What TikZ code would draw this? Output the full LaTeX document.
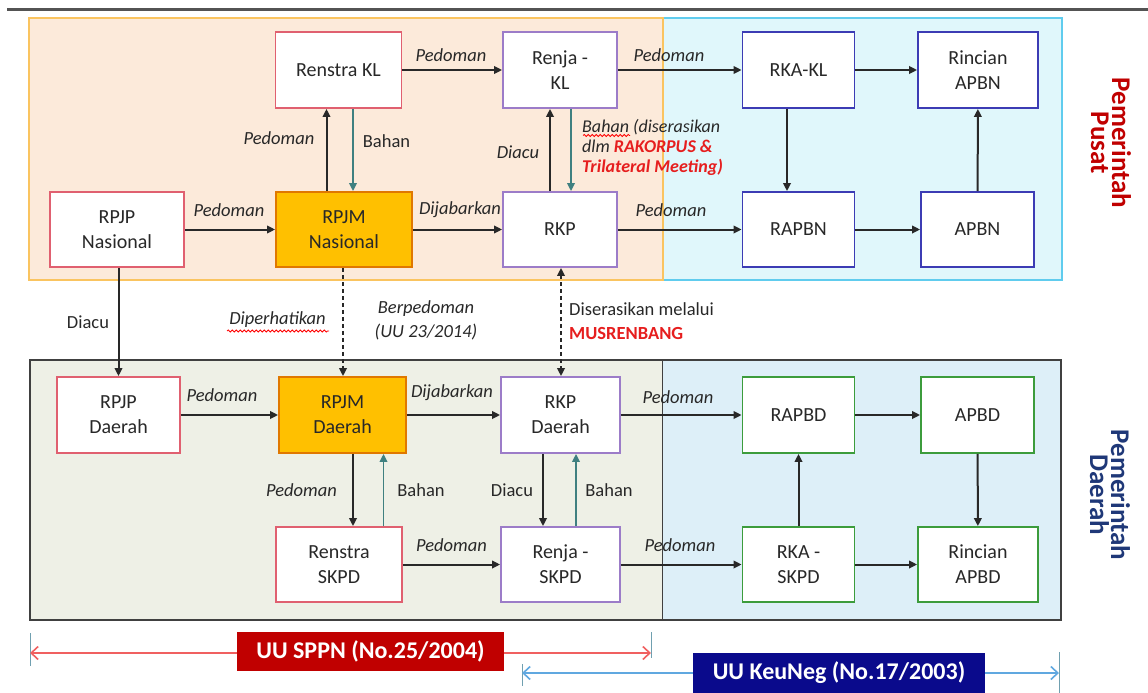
\documentclass[tikz,border=0pt]{standalone}
\usepackage{fontspec}
\setmainfont{Carlito}
\usetikzlibrary{arrows.meta,decorations.pathmorphing}
\definecolor{peach}{RGB}{252,234,218}
\definecolor{peachline}{RGB}{250,196,96}
\definecolor{cyanfill}{RGB}{224,247,251}
\definecolor{cyanline}{RGB}{96,204,238}
\definecolor{grayfill}{RGB}{238,240,230}
\definecolor{bluefill}{RGB}{221,239,248}
\definecolor{regline}{RGB}{64,64,64}
\definecolor{cred}{RGB}{224,96,112}
\definecolor{cpurple}{RGB}{156,124,200}
\definecolor{cblue}{RGB}{60,60,180}
\definecolor{cgreen}{RGB}{60,156,60}
\definecolor{corange}{RGB}{255,192,0}
\definecolor{corangeline}{RGB}{224,120,0}
\definecolor{cteal}{RGB}{63,128,128}
\definecolor{txt}{RGB}{40,40,40}
\definecolor{brightred}{RGB}{230,30,30}
\definecolor{darkred}{RGB}{192,0,0}
\definecolor{navytxt}{RGB}{31,56,120}
\definecolor{navybox}{RGB}{10,10,140}
\definecolor{rangered}{RGB}{240,96,96}
\definecolor{rangeblue}{RGB}{96,168,224}
\definecolor{tickcol}{RGB}{112,160,176}
\begin{document}
\begin{tikzpicture}[x=1pt,y=-1pt,
  region/.style={line width=2pt},
  box/.style={draw, fill=white, line width=1.8pt, align=center, inner sep=2pt,
    text=txt, font=\fontsize{20}{25}\selectfont},
  rbox/.style={draw=cred},
  pbox/.style={draw=cpurple},
  bbox/.style={draw=cblue},
  gbox/.style={draw=cgreen},
  obox/.style={draw=corangeline, fill=corange},
  arr/.style={draw=txt, line width=2pt, -{Triangle[length=8pt,width=7.5pt]}},
  tarr/.style={draw=cteal, line width=1.7pt, -{Triangle[length=8pt,width=7.5pt]}},
  dasharr/.style={arr, dash pattern=on 4pt off 3pt},
  lbl/.style={text=txt, inner sep=1pt, font=\fontsize{18.5}{22}\selectfont\itshape},
  lbln/.style={text=txt, inner sep=1pt, font=\fontsize{18.5}{22}\selectfont},
  wavy/.style={draw=red, line width=0.8pt, decorate,
    decoration={snake, segment length=4pt, amplitude=1pt}},
  side/.style={rotate=-90, align=center, inner sep=0pt,
    font=\fontsize{27}{21}\selectfont\bfseries},
  lawbox/.style={text=white, inner sep=0pt, font=\fontsize{24}{28}\selectfont\bfseries},
  rangearr/.style={line width=1.6pt, {Straight Barb[length=7pt,width=13pt]}-{Straight Barb[length=7pt,width=13pt]}}
]
\useasboundingbox (0,0) rectangle (1148,693);
% top rule
\draw[line width=3pt, draw=regline!90] (7,10) -- (1148,10);
% regions
\draw[region, fill=cyanfill, draw=cyanline] (662.5,18) rectangle (1062,280);
\draw[region, fill=peach, draw=peachline] (28.5,18) rectangle (662.5,280);
\draw[line width=1.6pt, fill=grayfill, draw=regline] (30,360) rectangle (662.5,620);
\draw[line width=1.6pt, fill=bluefill, draw=regline] (662.5,360) rectangle (1061,620);

% top boxes
\node[box,rbox,minimum width=126,minimum height=76] (renstrakl) at (338.5,70) {Renstra KL};
\node[box,pbox,minimum width=114,minimum height=76] (renjakl) at (560,70) {Renja -\\KL};
\node[box,bbox,minimum width=112,minimum height=76] (rkakl) at (798.5,70) {RKA-KL};
\node[box,bbox,minimum width=120,minimum height=76] (rincianapbn) at (978,70) {Rincian\\APBN};
\node[box,rbox,minimum width=134,minimum height=75] (rpjpn) at (117,229.5) {RPJP\\Nasional};
\node[box,obox,minimum width=136,minimum height=75] (rpjmn) at (344,229.5) {RPJM\\Nasional};
\node[box,pbox,minimum width=114,minimum height=75] (rkp) at (560,229.5) {RKP};
\node[box,bbox,minimum width=112,minimum height=75] (rapbn) at (798.5,229.5) {RAPBN};
\node[box,bbox,minimum width=113,minimum height=75] (apbn) at (977.5,229.5) {APBN};
% bottom boxes
\node[box,rbox,minimum width=123,minimum height=76] (rpjpd) at (118.5,415) {RPJP\\Daerah};
\node[box,obox,minimum width=127,minimum height=76] (rpjmd) at (342.5,415) {RPJM\\Daerah};
\node[box,pbox,minimum width=119,minimum height=76] (rkpd) at (560.5,415) {RKP\\Daerah};
\node[box,gbox,minimum width=112,minimum height=76] (rapbd) at (798.5,415) {RAPBD};
\node[box,gbox,minimum width=113,minimum height=76] (apbd) at (977.5,415) {APBD};
\node[box,rbox,minimum width=126,minimum height=75] (renstraskpd) at (339,564.5) {Renstra\\SKPD};
\node[box,pbox,minimum width=119,minimum height=75] (renjaskpd) at (560.5,564.5) {Renja -\\SKPD};
\node[box,gbox,minimum width=112,minimum height=75] (rkaskpd) at (798.5,564.5) {RKA -\\SKPD};
\node[box,gbox,minimum width=120,minimum height=75] (rincianapbd) at (978,564.5) {Rincian\\APBD};

% top connectors
\draw[arr] (renstrakl) -- (renjakl);
\draw[arr] (renjakl) -- (rkakl);
\draw[arr] (rkakl) -- (rincianapbn);
\draw[arr] (rkakl.south -| 787,0) -- (rapbn.north -| 787,0);
\draw[arr] (apbn) -- (rincianapbn);
\draw[arr] (rpjpn) -- (rpjmn);
\draw[arr] (rpjmn) -- (rkp);
\draw[arr] (rkp) -- (rapbn);
\draw[arr] (rapbn) -- (apbn);
\draw[arr] (rpjmn.north -| 326.5,0) -- (renstrakl.south -| 326.5,0);
\draw[tarr] (renstrakl.south -| 353,0) -- (rpjmn.north -| 353,0);
\draw[arr] (rkp.north -| 550,0) -- (renjakl.south -| 550,0);
\draw[tarr] (renjakl.south -| 571,0) -- (rkp.north -| 571,0);
% between levels
\draw[arr] (rpjpn.south -| 118.5,0) -- (rpjpd.north -| 118.5,0);
\draw[dasharr] (rpjmn.south -| 343,0) -- (rpjmd.north -| 343,0);
\draw[dasharr, {Triangle[length=8pt,width=7.5pt]}-{Triangle[length=8pt,width=7.5pt]}] (rkp.south -| 561,0) -- (rkpd.north -| 561,0);
% bottom connectors
\draw[arr] (rpjpd) -- (rpjmd);
\draw[arr] (rpjmd) -- (rkpd);
\draw[arr] (rkpd) -- (rapbd);
\draw[arr] (rapbd) -- (apbd);
\draw[arr] (rpjmd.south -| 353,0) -- (renstraskpd.north -| 353,0);
\draw[tarr] (renstraskpd.north -| 383.5,0) -- (rpjmd.south -| 383.5,0);
\draw[arr] (rkpd.south -| 543,0) -- (renjaskpd.north -| 543,0);
\draw[tarr] (renjaskpd.north -| 576,0) -- (rkpd.south -| 576,0);
\draw[arr] (renstraskpd) -- (renjaskpd);
\draw[arr] (renjaskpd) -- (rkaskpd);
\draw[arr] (rkaskpd) -- (rapbd);
\draw[arr] (apbd) -- (rincianapbd);
\draw[arr] (rkaskpd) -- (rincianapbd);

% labels top
\node[lbl] (l1) at (451,55) {Pedoman};
\node[lbl] (l2) at (669,55) {Pedoman};
\node[lbl] (l3) at (229,210) {Pedoman};
\node[lbl] (l4) at (460,210) {Dijabarkan};
\node[lbl] (l5) at (671,210) {Pedoman};
\node[lbl] (l6) at (279,138) {Pedoman};
\node[lbln] (l7) at (386.5,141) {Bahan};
\node[lbl] (l8) at (518,152) {Diacu};
\node[text=txt, inner sep=0pt, anchor=west, align=left,
  font=\fontsize{18}{20}\selectfont\itshape] (l9) at (582,147)
  {Bahan (diserasikan\\dlm {\color{brightred}\bfseries RAKORPUS \&}\\{\color{brightred}\bfseries Trilateral Meeting)}};
\draw[wavy] (583,135.5) -- (630,135.5);
% labels middle
\node[lbln] (l10) at (88,322) {Diacu};
\node[lbl] (l11) at (277.5,320) {Diperhatikan};
\draw[wavy] (227,331) -- (329,331);
\node[lbl, align=center, font=\fontsize{18.5}{24}\selectfont\itshape] (l12) at (426,320) {Berpedoman\\(UU 23/2014)};
\node[lbln, anchor=west, align=left, font=\fontsize{18.5}{24}\selectfont] (l13) at (568,321)
  {Diserasikan melalui\\{\color{brightred}\bfseries MUSRENBANG}};
% labels bottom
\node[lbl] (l14) at (222,395) {Pedoman};
\node[lbl] (l15) at (452,393) {Dijabarkan};
\node[lbl] (l16) at (678,397) {Pedoman};
\node[lbl] (l17) at (301.5,490) {Pedoman};
\node[lbln] (l18) at (421,490) {Bahan};
\node[lbln] (l19) at (512,490) {Diacu};
\node[lbln] (l20) at (609,490) {Bahan};
\node[lbl] (l21) at (451.5,545) {Pedoman};
\node[lbl] (l22) at (680,545) {Pedoman};

% side labels
\node[side, text=darkred] (pusat) at (1111,143) {Pemerintah\\Pusat};
\node[side, text=navytxt] (daerah) at (1110,495) {Pemerintah\\Daerah};

% law ranges
\coordinate (ra) at (30,653);
\coordinate (rb) at (651,653);
\coordinate (ba) at (522,673);
\coordinate (bb) at (1059,673);
\draw[draw=tickcol, line width=1pt] (30,633) -- (30,666);
\draw[draw=tickcol, line width=1pt] (651,632) -- (651,658);
\draw[draw=tickcol, line width=1pt] (522,664) -- (522,686);
\draw[draw=tickcol, line width=1pt] (1059,652) -- (1059,693);
\draw[draw=rangered, rangearr] (ra) -- (rb);
\draw[draw=rangeblue, rangearr] (ba) -- (bb);
\node[lawbox, fill=darkred, minimum width=267, minimum height=39] (sppn) at (370.5,651.5) {UU SPPN (No.25/2004)};
\node[lawbox, fill=navybox, minimum width=292, minimum height=41] (keuneg) at (839,673) {UU KeuNeg (No.17/2003)};
\end{tikzpicture}
\end{document}
